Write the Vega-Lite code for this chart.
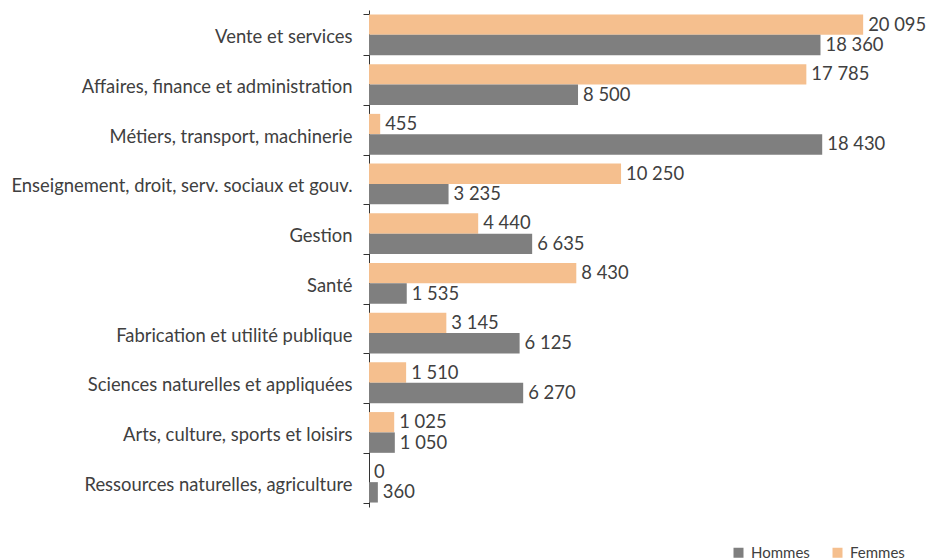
{
  "$schema": "https://vega.github.io/schema/vega-lite/v6.json",
  "autosize": "none",
  "width": 541,
  "height": 497,
  "padding": {"left": 369, "top": 10, "right": 30, "bottom": 53},
  "background": "white",
  "config": {
    "view": {"stroke": null},
    "font": "Lato",
    "locale": {"number": {"decimal": ",", "thousands": " ", "grouping": [3], "currency": ["", " €"]}}
  },
  "data": {
    "values": [
      {"cat": "Vente et services", "sexe": "Femmes", "val": 20095},
      {"cat": "Vente et services", "sexe": "Hommes", "val": 18360},
      {"cat": "Affaires, finance et administration", "sexe": "Femmes", "val": 17785},
      {"cat": "Affaires, finance et administration", "sexe": "Hommes", "val": 8500},
      {"cat": "Métiers, transport, machinerie", "sexe": "Femmes", "val": 455},
      {"cat": "Métiers, transport, machinerie", "sexe": "Hommes", "val": 18430},
      {"cat": "Enseignement, droit, serv. sociaux et gouv.", "sexe": "Femmes", "val": 10250},
      {"cat": "Enseignement, droit, serv. sociaux et gouv.", "sexe": "Hommes", "val": 3235},
      {"cat": "Gestion", "sexe": "Femmes", "val": 4440},
      {"cat": "Gestion", "sexe": "Hommes", "val": 6635},
      {"cat": "Santé", "sexe": "Femmes", "val": 8430},
      {"cat": "Santé", "sexe": "Hommes", "val": 1535},
      {"cat": "Fabrication et utilité publique", "sexe": "Femmes", "val": 3145},
      {"cat": "Fabrication et utilité publique", "sexe": "Hommes", "val": 6125},
      {"cat": "Sciences naturelles et appliquées", "sexe": "Femmes", "val": 1510},
      {"cat": "Sciences naturelles et appliquées", "sexe": "Hommes", "val": 6270},
      {"cat": "Arts, culture, sports et loisirs", "sexe": "Femmes", "val": 1025},
      {"cat": "Arts, culture, sports et loisirs", "sexe": "Hommes", "val": 1050},
      {"cat": "Ressources naturelles, agriculture", "sexe": "Femmes", "val": 0},
      {"cat": "Ressources naturelles, agriculture", "sexe": "Hommes", "val": 360}
    ]
  },
  "encoding": {
    "y": {
      "field": "cat", "type": "nominal", "sort": null, "title": null,
      "scale": {"paddingInner": 0.18, "paddingOuter": 0.09},
      "axis": {
        "tickBand": "extent", "tickSize": 6, "tickColor": "#333333", "domainColor": "#333333",
        "labelFontSize": 18.4, "labelColor": "#404040", "labelPadding": 11, "labelLimit": 400, "labelOffset": 2
      }
    },
    "yOffset": {"field": "sexe", "type": "nominal", "sort": ["Femmes", "Hommes"], "scale": {"paddingInner": 0, "paddingOuter": 0}},
    "x": {"field": "val", "type": "quantitative", "scale": {"domain": [0, 22000]}, "axis": null}
  },
  "layer": [
    {
      "mark": {"type": "bar"},
      "encoding": {
        "color": {
          "field": "sexe", "type": "nominal",
          "scale": {"domain": ["Hommes", "Femmes"], "range": ["#7F7F7F", "#F5BF8E"]},
          "legend": {
            "orient": "none", "legendX": 362, "legendY": 535, "direction": "horizontal", "title": null,
            "symbolType": "square", "symbolSize": 100, "symbolStrokeWidth": 0, "labelFontSize": 15, "labelColor": "#404040",
            "columnPadding": 20, "labelOffset": 5
          }
        }
      }
    },
    {
      "mark": {"type": "text", "align": "left", "baseline": "middle", "dx": 5, "fontSize": 18.4, "color": "#404040"},
      "encoding": {"text": {"field": "val", "type": "quantitative", "format": ",d"}}
    }
  ]
}
